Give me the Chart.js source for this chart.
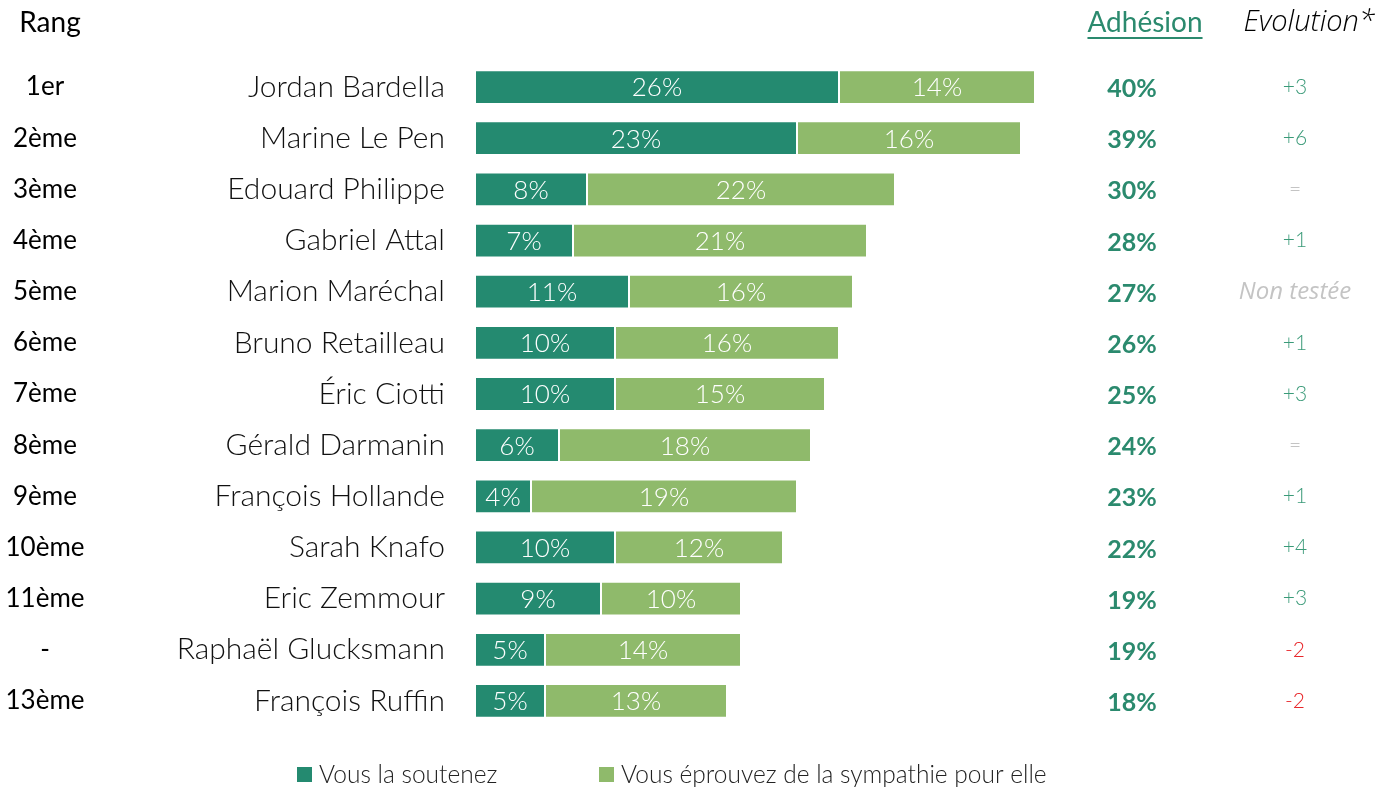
<!DOCTYPE html>
<html><head><meta charset="utf-8">
<script src="https://cdn.jsdelivr.net/npm/chart.js@4/dist/chart.umd.min.js"></script>
<style>html,body{margin:0;padding:0;background:#fff;}#wrap{width:1380px;height:787px;position:relative;}</style>
</head><body><div id="wrap"><canvas id="c" width="1380" height="787"></canvas></div>
<script>
const names = ["Jordan Bardella","Marine Le Pen","Edouard Philippe","Gabriel Attal","Marion Maréchal","Bruno Retailleau","Éric Ciotti","Gérald Darmanin","François Hollande","Sarah Knafo","Eric Zemmour","Raphaël Glucksmann","François Ruffin"];
const ranks = ["1er","2ème","3ème","4ème","5ème","6ème","7ème","8ème","9ème","10ème","11ème","-","13ème"];
const soutien = [26,23,8,7,11,10,10,6,4,10,9,5,5];
const sympathie = [14,16,22,21,16,16,15,18,19,12,10,14,13];
const adhesion = [40,39,30,28,27,26,25,24,23,22,19,19,18];
const evolution = ["+3","+6","=","+1","Non testée","+1","+3","=","+1","+4","+3","-2","-2"];
const seriesNames = ["Vous la soutenez","Vous éprouvez de la sympathie pour elle"];

const DARK = "#248a70", LIGHT = "#8fba6b", TXT_GREEN = "#2b8a6e";
const FONT = "Lato, 'Open Sans', sans-serif";
const OS = "'Open Sans', Lato, sans-serif";

function evoColor(v){
  if (v === "=" || v === "Non testée") return "#c4c4c4";
  if (v.startsWith("-")) return "#e8262a";
  return "#3a9a78";
}

const overlay = {
  id: "overlay",
  afterDatasetsDraw(chart){
    const ctx = chart.ctx, y = chart.scales.y;
    ctx.save();
    // bar value labels
    ctx.font = "300 26px " + FONT;
    ctx.fillStyle = "#fff";
    ctx.textAlign = "center"; ctx.textBaseline = "middle";
    chart.data.datasets.forEach((ds, di) => {
      chart.getDatasetMeta(di).data.forEach((bar, i) => {
        const cx = (bar.x + bar.base) / 2;
        ctx.fillText(ds.data[i] + "%", cx, bar.y + 1);
      });
    });
    // rank labels
    ctx.fillStyle = "#000";
    ctx.font = "400 26px " + FONT;
    names.forEach((n, i) => {
      const py = y.getPixelForValue(i);
      ctx.fillText(ranks[i], 45, py);
    });
    // adhesion
    ctx.font = "700 25px " + FONT;
    ctx.fillStyle = TXT_GREEN;
    adhesion.forEach((v, i) => ctx.fillText(v + "%", 1132, y.getPixelForValue(i) + 2));
    // evolution
    evolution.forEach((v, i) => {
      ctx.fillStyle = evoColor(v);
      ctx.font = (v === "Non testée" ? "italic 400 24px " + OS : "300 21px " + FONT);
      ctx.fillText(v, 1295, y.getPixelForValue(i));
    });
    // headers
    ctx.fillStyle = "#000";
    ctx.font = "400 28px " + FONT;
    ctx.fillText("Rang", 50, 23);
    ctx.fillStyle = TXT_GREEN;
    ctx.fillText("Adhésion", 1145, 23);
    const w = ctx.measureText("Adhésion").width;
    ctx.fillRect(1145 - w/2, 37, w, 2);
    ctx.fillStyle = "#000";
    ctx.font = "italic 300 29px " + OS;
    ctx.fillText("Evolution*", 1309, 23);
    // legend
    ctx.textAlign = "left";
    ctx.font = "300 24.5px " + FONT;
    const leg = [[297, DARK], [599, LIGHT]];
    leg.forEach(([lx, col], k) => {
      ctx.fillStyle = col;
      ctx.fillRect(lx, 767, 15, 15);
      ctx.fillStyle = "#222";
      ctx.fillText(seriesNames[k], lx + 22, 775);
    });
    ctx.restore();
  }
};

new Chart(document.getElementById("c"), {
  type: "bar",
  data: {
    labels: names,
    datasets: [
      { label: seriesNames[0], data: soutien, backgroundColor: DARK, borderColor: "rgba(255,255,255,0.6)", borderWidth: 1, borderSkipped: false, barPercentage: 0.66, categoryPercentage: 1 },
      { label: seriesNames[1], data: sympathie, backgroundColor: LIGHT, borderColor: "rgba(255,255,255,0.6)", borderWidth: 1, borderSkipped: false, barPercentage: 0.66, categoryPercentage: 1 }
    ]
  },
  options: {
    indexAxis: "y",
    responsive: false,
    animation: false,
    layout: { padding: { left: 0, right: 65, top: 61.5, bottom: 60.5 } },
    plugins: { legend: { display: false }, tooltip: { enabled: false } },
    scales: {
      x: { stacked: true, min: 0, max: 60, display: false },
      y: {
        stacked: true,
        grid: { display: false, drawTicks: false },
        border: { display: false },
        ticks: { padding: 30, color: "#111", font: { family: FONT, size: 30, weight: "300" } },
        afterFit(s){ s.width = 475; }
      }
    }
  },
  plugins: [overlay]
});
</script></body></html>
